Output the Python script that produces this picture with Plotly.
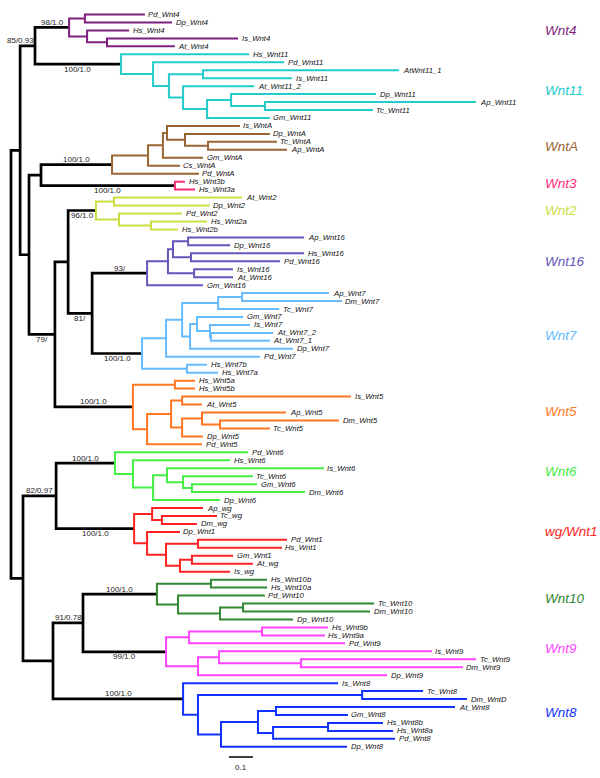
import plotly.graph_objects as go

# ---------------- data: depth-annotated Newick (number = distance from root) ----------------
WNT4 = "((Pd_Wnt4:0.558,Dp_Wnt4:0.671):0.308,(Hs_Wnt4:0.492,(Is_Wnt4:0.946,At_Wnt4:0.683):0.400):0.317)Wnt4:0.242"
WNT11 = ("(Hs_Wnt11:0.992,(Pd_Wnt11:1.138,((AtWnt11_1:1.617,Is_Wnt11:1.171):0.800,(At_Wnt11_2:1.013,"
         "((Dp_Wnt11:1.521,(Ap_Wnt11:1.938,Tc_Wnt11:1.508):1.058):0.917,Gm_Wnt11:1.079):0.817):0.717):0.658):0.592)Wnt11:0.458")
WNTA = ("((((Is_WntA:0.954,(Dp_WntA:1.079,(Tc_WntA:1.108,Ap_WntA:1.150):0.821):0.725):0.650,Gm_WntA:0.800):0.633,"
        "Cs_WntA:0.704):0.571,Pd_WntA:0.783)WntA:0.421")
WNT3 = "(Hs_Wnt3b:0.725,Hs_Wnt3a:0.767)Wnt3:0.683"
WNT2 = "((At_Wnt2:0.963,Dp_Wnt2:0.829):0.429,(Pd_Wnt2:0.713,(Hs_Wnt2a:0.817,Hs_Wnt2b:0.696):0.583):0.450)Wnt2:0.354"
WNT16 = ("((((Ap_Wnt16:1.221,Dp_Wnt16:0.913):0.738,(Hs_Wnt16:1.221,Pd_Wnt16:1.121):0.750):0.675,"
         "(Is_Wnt16:0.925,At_Wnt16:0.925):0.763):0.654,Gm_Wnt16:0.800)Wnt16:0.567")
WNT7 = ("(((((Ap_Wnt7:1.325,Dm_Wnt7:1.379):0.963,Tc_Wnt7:1.117):0.863,((Gm_Wnt7:0.967,(Is_Wnt7:0.996,"
        "(At_Wnt7_2:1.092,At_Wnt7_1:1.079):0.833):0.829):0.775,Dp_Wnt7:1.175):0.746):0.713,Pd_Wnt7:1.038):0.646,"
        "(Hs_Wnt7b:0.817,Hs_Wnt7a:0.863):0.733)Wnt7:0.546")
WNT5 = ("((Hs_Wnt5a:0.767,Hs_Wnt5b:0.767):0.683,(((Is_Wnt5:1.417,At_Wnt5:0.796):0.713,((Ap_Wnt5:1.146,"
        "(Dm_Wnt5:1.367,Tc_Wnt5:1.079):0.871):0.796,Dp_Wnt5:0.800):0.713):0.667,Pd_Wnt5:0.796):0.567)Wnt5:0.508")
WNT6 = ("(Pd_Wnt6:0.988,(Hs_Wnt6:0.913,((Is_Wnt6:1.304,(Tc_Wnt6:1.008,(Gm_Wnt6:1.025,Dm_Wnt6:1.225):0.754):0.717):0.650,"
        "Dp_Wnt6:0.871):0.592):0.508)Wnt6:0.433")
WG = ("((Ap_wg:0.800,(Tc_wg:0.858,Dm_wg:0.775):0.629):0.588,(Dp_Wnt1:0.704,((Pd_Wnt1:1.150,Hs_Wnt1:1.129):0.779,"
      "((Gm_Wnt1:0.925,At_wg:1.008):0.754,Is_wg:0.913):0.704):0.646):0.567)wg:0.513")
WNT10 = ("((Hs_Wnt10b:1.067,Hs_Wnt10a:1.067):0.833,(Pd_Wnt10:1.058,((Tc_Wnt10:1.513,Dm_Wnt10:1.496):0.967,"
         "Dp_Wnt10:1.175):0.871):0.696)Wnt10:0.608")
WNT9 = ("(((Hs_Wnt9b:1.321,Hs_Wnt9a:1.308):1.046,Pd_Wnt9:1.392):0.742,((Is_Wnt9:1.754,(Tc_Wnt9:1.938,"
        "Dm_Wnt9:1.883):1.208):0.867,Dp_Wnt9:1.567):0.779)Wnt9:0.646")
WNT8 = ("(Is_Wnt8:1.363,((Tc_Wnt8:1.717,Dm_WntD:1.900):1.463,(((At_Wnt8:1.850,Gm_Wnt8:1.404):1.104,"
        "((Hs_Wnt8b:1.550,Hs_Wnt8a:1.592):1.321,Pd_Wnt8:1.600):1.092):1.029,Dp_Wnt8:1.400):0.875):0.779)Wnt8:0.717")

BACKBONE = ("((({Wnt4},{Wnt11})n85:0.100,(({WntA},{Wnt3})nA3:0.125,(({Wnt2},({Wnt16},{Wnt7})n81:0.338)n6:0.238,"
            "{Wnt5})n79:0.183)n3:0.075)n1:0.038,(({Wnt6},{wg})n82:0.188,(({Wnt10},{Wnt9})n91:0.300,{Wnt8})n9:0.175)n2:0.050)root:0")

CLADE_NAMES = ["Wnt4", "Wnt11", "WntA", "Wnt3", "Wnt2", "Wnt16", "Wnt7", "Wnt5", "Wnt6", "wg", "Wnt10", "Wnt9", "Wnt8"]
CLADE_TEXTS = ["Wnt4", "Wnt11", "WntA", "Wnt3", "Wnt2", "Wnt16", "Wnt7", "Wnt5", "Wnt6", "wg/Wnt1", "Wnt10", "Wnt9", "Wnt8"]
CLADE_COLORS = ["#7f1f80", "#22cccc", "#996633", "#ff2d7a", "#ccdd44", "#6655bb", "#66bbff",
                "#ff7722", "#44ee44", "#ff2222", "#338833", "#ff44ff", "#1133ff"]

SUPPORT_NODES = ["n85", "Wnt4", "Wnt11", "WntA", "Wnt3", "Wnt2", "Wnt16", "n81", "Wnt7", "n79",
                 "Wnt5", "Wnt6", "n82", "wg", "Wnt10", "n91", "Wnt9", "Wnt8"]
SUPPORT_TEXTS = ["85/0.93", "98/1.0", "100/1.0", "100/1.0", "100/1.0", "96/1.0", "93/", "81/", "100/1.0", "79/",
                 "100/1.0", "100/1.0", "82/0.97", "100/1.0", "100/1.0", "91/0.78", "99/1.0", "100/1.0"]
SUPPORT_SIDES = ["above", "above", "below", "above", "below", "below", "above", "below", "below", "below",
                 "above", "above", "above", "below", "above", "above", "below", "above"]

SCALE_BAR = 0.1

# ---------------- build tree ----------------
newick = BACKBONE.format(Wnt4=WNT4, Wnt11=WNT11, WntA=WNTA, Wnt3=WNT3, Wnt2=WNT2, Wnt16=WNT16, Wnt7=WNT7,
                         Wnt5=WNT5, Wnt6=WNT6, wg=WG, Wnt10=WNT10, Wnt9=WNT9, Wnt8=WNT8)


def parse(s):
    pos = 0

    def node():
        nonlocal pos
        children = []
        if s[pos] == "(":
            pos += 1
            while True:
                children.append(node())
                if s[pos] == ",":
                    pos += 1
                    continue
                if s[pos] == ")":
                    pos += 1
                    break
        st = pos
        while pos < len(s) and s[pos] not in ",():":
            pos += 1
        name = s[st:pos]
        depth = 0.0
        if pos < len(s) and s[pos] == ":":
            pos += 1
            st = pos
            while pos < len(s) and s[pos] not in ",()":
                pos += 1
            depth = float(s[st:pos])
        return {"name": name, "depth": depth, "children": children}

    return node()


tree = parse(newick)
leaves = []
nodes = {}
parents = {}


def assign(n):
    nodes[n["name"]] = n
    if not n["children"]:
        n["y"] = len(leaves)
        leaves.append(n)
    else:
        for c in n["children"]:
            parents[id(c)] = n
            assign(c)
        n["y"] = (n["children"][0]["y"] + n["children"][-1]["y"]) / 2


assign(tree)

color_of = dict(zip(CLADE_NAMES, CLADE_COLORS))
segs = {}


def add(color, xs, ys):
    X, Y = segs.setdefault(color, ([], []))
    X.extend(xs + [None])
    Y.extend(ys + [None])


def draw(n, color):
    color = color_of.get(n["name"], color)
    ch = n["children"]
    if not ch:
        return
    f, l = ch[0], ch[-1]
    add(color, [f["depth"], n["depth"], n["depth"], l["depth"]], [f["y"], f["y"], l["y"], l["y"]])
    for c in ch[1:-1]:
        add(color, [n["depth"], c["depth"]], [c["y"], c["y"]])
    for c in ch:
        draw(c, color)


draw(tree, "#000000")

fig = go.Figure()
for color, (X, Y) in segs.items():
    fig.add_trace(go.Scatter(x=X, y=Y, mode="lines", hoverinfo="skip",
                             line=dict(color=color, width=2.7 if color == "#000000" else 2.0)))

FONT = "Liberation Sans, Arial, sans-serif"
ann = []
for lf in leaves:
    ann.append(dict(x=lf["depth"], y=lf["y"], text="<i>%s</i>" % lf["name"], showarrow=False,
                    xanchor="left", yanchor="middle", xshift=2.5, borderpad=0,
                    font=dict(family=FONT, size=7.7, color="#111111")))

for nm, txt, side in zip(SUPPORT_NODES, SUPPORT_TEXTS, SUPPORT_SIDES):
    n = nodes[nm]
    p = parents[id(n)]
    xm = (p["depth"] + n["depth"]) / 2
    dx = -7 if nm == "n85" else 0
    ann.append(dict(x=xm, y=n["y"], text=txt, showarrow=False, xanchor="center", yanchor="middle",
                    xshift=dx, yshift=5 if side == "above" else -5, borderpad=0,
                    font=dict(family=FONT, size=8, color="#222222")))

LABEL_DY = {"Wnt11": -4, "WntA": 3, "Wnt3": 2.5, "Wnt2": 3.5, "Wnt7": -3, "Wnt5": 1.5, "Wnt6": 5,
            "wg": 8, "Wnt10": 1.5, "Wnt9": 2.5, "Wnt8": 2}


def leaf_list(n):
    if not n["children"]:
        return [n]
    out = []
    for c in n["children"]:
        out += leaf_list(c)
    return out


for nm, txt, col in zip(CLADE_NAMES, CLADE_TEXTS, CLADE_COLORS):
    lv = leaf_list(nodes[nm])
    ym = sum(l["y"] for l in lv) / len(lv)
    ann.append(dict(x=0.907, xref="paper", y=ym, text="<i>%s</i>" % txt, showarrow=False,
                    xanchor="left", yanchor="middle", yshift=LABEL_DY.get(nm, 0), borderpad=0,
                    font=dict(family=FONT, size=13.5, color=col)))

# scale bar
SB_X0 = 0.908
SB_Y = 93.28
fig.add_trace(go.Scatter(x=[SB_X0, SB_X0 + SCALE_BAR], y=[SB_Y, SB_Y], mode="lines", hoverinfo="skip",
                         line=dict(color="#000000", width=1.5)))
ann.append(dict(x=SB_X0 + SCALE_BAR / 2, y=SB_Y, text=str(SCALE_BAR), showarrow=False,
                xanchor="center", yanchor="middle", yshift=-10, borderpad=0,
                font=dict(family=FONT, size=8, color="#222222")))

fig.update_layout(
    width=600, height=778, margin=dict(l=0, r=0, t=0, b=0),
    paper_bgcolor="white", plot_bgcolor="white", showlegend=False,
    annotations=ann,
    xaxis=dict(range=[-11 / 240, 589 / 240], visible=False, fixedrange=True),
    yaxis=dict(range=[(778 - 14.5) / 7.96, -14.5 / 7.96], visible=False, fixedrange=True),
)
fig.write_html("out.html", config={"displayModeBar": False},
               post_script="document.body.style.margin='0';document.body.style.overflow='hidden';")
